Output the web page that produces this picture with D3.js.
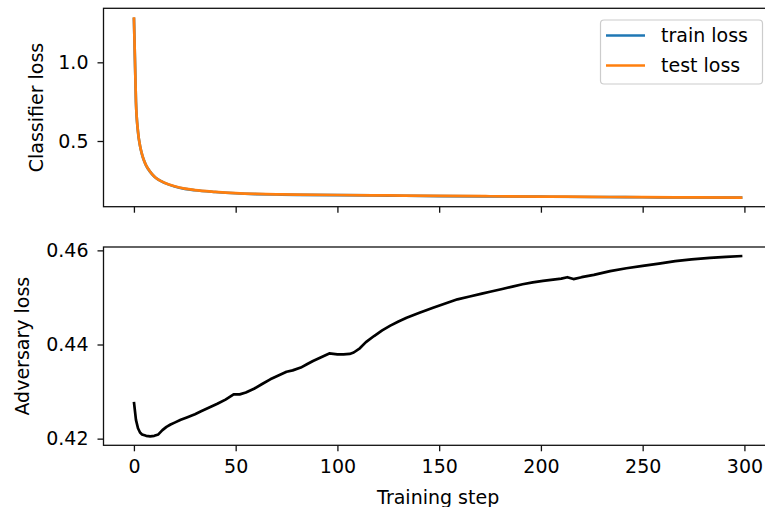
<!DOCTYPE html>
<html><head><meta charset="utf-8">
<script src="https://cdn.jsdelivr.net/npm/d3@7"></script>
<style>html,body{margin:0;padding:0;background:#fff;overflow:hidden}svg{display:block}text{font-family:"DejaVu Sans",sans-serif;fill:#000}</style>
</head><body><svg id="c" width="765" height="507"></svg>
<script>
// ---- data ----
const clfSteps = [0,1,2,3,4,5,6,8,10,12,15,20,25,30,40,50,60,70,80,100,125,150,175,200,225,250,275,299];
const testLoss = [1.286,0.75,0.56,0.47,0.415,0.375,0.345,0.305,0.275,0.255,0.235,0.212,0.197,0.188,0.177,0.169,0.164,0.161,0.159,0.157,0.154,0.151,0.149,0.147,0.145,0.143,0.1415,0.140];
const trainLoss = [1.284,0.748,0.558,0.469,0.414,0.374,0.344,0.304,0.274,0.254,0.234,0.211,0.196,0.187,0.176,0.168,0.163,0.160,0.158,0.156,0.153,0.150,0.148,0.146,0.144,0.1425,0.141,0.1398];
const advSteps = [0,1,2,3,4,6,8,10,12,14,16,18,20,23,26,30,33,37,41,45,49,52,55,59,63,67,71,75,78,82,85,88,92,96,98,100,103,106,108,111,114,118,122,126,130,134,140,147,153,159,165,171,175,181,186,191,196,201,206,210,213,216,220,226,234,242,250,258,266,274,283,291,299];
const advLoss = [0.4278,0.4240,0.4222,0.4213,0.4209,0.4206,0.4205,0.4206,0.4209,0.4218,0.4225,0.4230,0.4234,0.4240,0.4245,0.4252,0.4258,0.4266,0.4274,0.4283,0.4294,0.4294,0.4298,0.4306,0.4316,0.4326,0.4334,0.4342,0.4345,0.4351,0.4358,0.4365,0.4373,0.4381,0.4380,0.4379,0.4379,0.4380,0.4383,0.4392,0.4405,0.4418,0.4430,0.4440,0.4449,0.4457,0.4467,0.4478,0.4487,0.4496,0.4502,0.4508,0.4512,0.4518,0.4523,0.4528,0.4532,0.4535,0.4538,0.4540,0.4543,0.4539,0.4543,0.4548,0.4556,0.4562,0.4567,0.4572,0.4577,0.4581,0.4584,0.4586,0.4588];
const xTicks = [0,50,100,150,200,250,300];
const clfTicks = [0.5,1.0];
const advTicks = [0.42,0.44,0.46];
const seriesNames = ["train loss","test loss"];
const seriesColors = ["#1f77b4","#ff7f0e"];

// ---- layout ----
const svg = d3.select("#c");
const L = 103.5, R = 772.8;
const top1 = 8.3, bot1 = 206.7, top2 = 247, bot2 = 445.3;
const FS = 19;
function pad(ext){const r=ext[1]-ext[0];return [ext[0]-0.05*r, ext[1]+0.05*r];}
const x = d3.scaleLinear().domain(pad([0,299])).range([L,R]);
const allClf = trainLoss.concat(testLoss);
const y1 = d3.scaleLinear().domain(pad(d3.extent(allClf))).range([bot1,top1]);
const y2 = d3.scaleLinear().domain(pad(d3.extent(advLoss))).range([bot2,top2]);

function frame(t,b){
  svg.append("rect").attr("x",L).attr("y",t).attr("width",R-L).attr("height",b-t)
    .attr("fill","none").attr("stroke","#111").attr("stroke-width",1.3);
}
function yAxis(scale,ticks,fmt){
  const g = svg.append("g").attr("transform",`translate(${L},0)`)
    .call(d3.axisLeft(scale).tickValues(ticks).tickFormat(fmt).tickSize(6).tickPadding(9));
  g.select(".domain").remove();
  g.selectAll("line").attr("stroke","#111").attr("stroke-width",1.3);
  g.selectAll("text").attr("font-size",FS).attr("font-family","DejaVu Sans").attr("fill","#222");
}
function xAxis(yPos,labels){
  const g = svg.append("g").attr("transform",`translate(0,${yPos})`)
    .call(d3.axisBottom(x).tickValues(xTicks).tickFormat(labels?d3.format("d"):"").tickSize(6).tickPadding(8));
  g.select(".domain").remove();
  g.selectAll("line").attr("stroke","#111").attr("stroke-width",1.3);
  g.selectAll("text").attr("font-size",FS).attr("font-family","DejaVu Sans").attr("fill","#222");
}

// ---- top panel ----
svg.append("clipPath").attr("id","cp1").append("rect").attr("x",L).attr("y",top1).attr("width",R-L).attr("height",bot1-top1);
const line1 = (vals)=>d3.line().curve(d3.curveMonotoneX).x((d,i)=>x(clfSteps[i])).y((d)=>y1(d))(vals);
[trainLoss,testLoss].forEach((vals,k)=>{
  svg.append("path").attr("d",line1(vals)).attr("fill","none").attr("stroke",seriesColors[k])
    .attr("stroke-width",2.7).attr("stroke-linejoin","round").attr("clip-path","url(#cp1)");
});
frame(top1,bot1);
yAxis(y1,clfTicks,d3.format(".1f"));
xAxis(bot1,false);
svg.append("text").attr("transform",`translate(43,${(top1+bot1)/2}) rotate(-90)`)
  .attr("text-anchor","middle").attr("font-size",FS).attr("fill","#222").text("Classifier loss");

// legend
const lg = svg.append("g");
lg.append("rect").attr("x",600.5).attr("y",20).attr("width",162).attr("height",64).attr("rx",3.5)
  .attr("fill","#fff").attr("fill-opacity",0.8).attr("stroke","#cccccc").attr("stroke-width",1.2);
seriesNames.forEach((n,k)=>{
  const yy = 35.5 + k*30;
  lg.append("line").attr("x1",606).attr("x2",645).attr("y1",yy).attr("y2",yy)
    .attr("stroke",seriesColors[k]).attr("stroke-width",2.7);
  lg.append("text").attr("x",661).attr("y",yy+6.5).attr("font-size",FS).attr("fill","#222").text(n);
});

// ---- bottom panel ----
svg.append("clipPath").attr("id","cp2").append("rect").attr("x",L).attr("y",top2).attr("width",R-L).attr("height",bot2-top2);
const line2 = d3.line().x((d,i)=>x(advSteps[i])).y(d=>y2(d));
svg.append("path").attr("d",line2(advLoss)).attr("fill","none").attr("stroke","#000")
  .attr("stroke-width",2.7).attr("stroke-linejoin","round").attr("clip-path","url(#cp2)");
frame(top2,bot2);
yAxis(y2,advTicks,d3.format(".2f"));
xAxis(bot2,true);
svg.append("text").attr("transform",`translate(29,${(top2+bot2)/2}) rotate(-90)`)
  .attr("text-anchor","middle").attr("font-size",FS).attr("fill","#222").text("Adversary loss");
svg.append("text").attr("x",(L+R)/2).attr("y",503.5).attr("text-anchor","middle")
  .attr("font-size",FS).attr("fill","#222").text("Training step");
</script></body></html>
